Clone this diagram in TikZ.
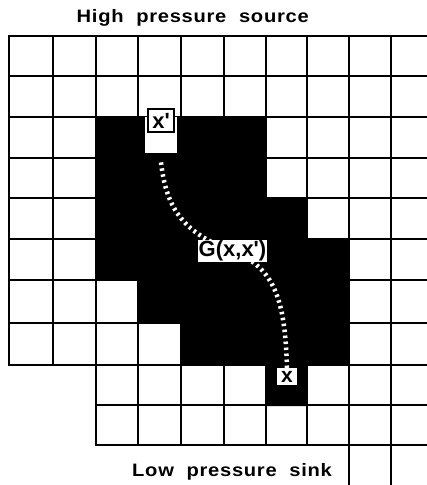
\documentclass[tikz,border=0pt]{standalone}
\usepackage{fontspec}
\setmainfont{Liberation Sans}
\newfontfamily\lbold{Liberation Sans Bold}
\newfontfamily\titlefont[FakeStretch=1.12,LetterSpace=4]{Liberation Sans Bold}
\pgfdeclarelayer{back}
\pgfdeclarelayer{mid}
\pgfsetlayers{back,mid,main}
\begin{document}
\begin{tikzpicture}[x=1pt,y=-1pt,
  gridline/.style={line width=2pt,line cap=rect},
  lab/.style={font=\lbold\fontsize{22}{22}\selectfont, fill=white, inner sep=0pt},
  ttl/.style={font=\titlefont\fontsize{18}{18}\selectfont, inner sep=0pt},
  pathdash/.style={white, line width=4.5pt, dash pattern=on 2.5pt off 3.5pt}
]
\useasboundingbox (0,0) rectangle (427,485);
\begin{pgfonlayer}{back}
\foreach \y in {36,76,117,158,198,239,280,323,365} \draw[gridline] (9,\y) -- (427,\y);
\foreach \y in {405,445} \draw[gridline] (96,\y) -- (427,\y);
\foreach \x in {9,53} \draw[gridline] (\x,36) -- (\x,365);
\foreach \x in {96,138,181,224,266,307} \draw[gridline] (\x,36) -- (\x,445);
\foreach \x in {349,391} \draw[gridline] (\x,36) -- (\x,486);
\fill[black] (96,117) -- (266,117) -- (266,198) -- (307,198) -- (307,239) -- (349,239)
  -- (349,365) -- (307,365) -- (307,406) -- (266,406) -- (266,365) -- (181,365)
  -- (181,323) -- (138,323) -- (138,280) -- (96,280) -- cycle;
\end{pgfonlayer}
\node[fill=white, minimum width=32pt, minimum height=36pt, inner sep=0pt, anchor=north] (xpcol) at (161,117) {};
\node[draw, line width=2pt, fill=white, minimum width=26pt, minimum height=23pt, inner sep=0pt,
  font=\lbold\fontsize{22}{22}\selectfont] (xp) at (161,120.5) {x\textquotesingle};
\node[lab, minimum width=69pt, minimum height=22pt] (G) at (232.5,251) {G(x,x\textquotesingle)};
\node[lab, font=\lbold\fontsize{21}{21}\selectfont, minimum width=20pt, minimum height=17pt] (x) at (287,376.5) {x};
\node[ttl, anchor=base west] (src) at (76.5,22.7) {High\hspace{0.7em}pressure\hspace{0.7em}source};
\node[ttl, anchor=base west] (sink) at (132,476) {Low\hspace{0.7em}pressure\hspace{0.7em}sink};
\begin{pgfonlayer}{mid}
\draw[pathdash] ([yshift=-9pt]xpcol.south) .. controls (166,205) and (180,232) .. (G.center)
  .. controls (275,268) and (285,300) .. (x.north);
\end{pgfonlayer}
\end{tikzpicture}
\end{document}
